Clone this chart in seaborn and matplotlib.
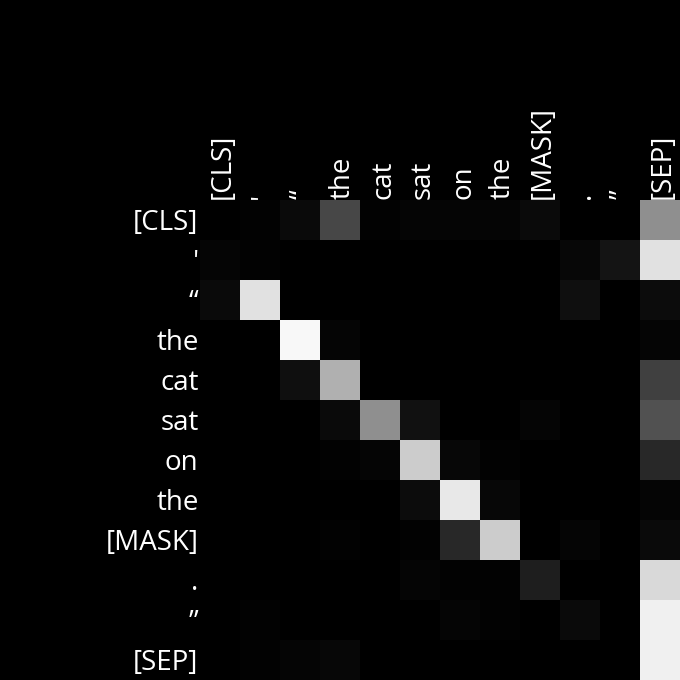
import numpy as np
import matplotlib
matplotlib.use("Agg")
import matplotlib.pyplot as plt
import matplotlib.transforms as mtransforms
import seaborn as sns

# Tokens
tokens = ["[CLS]", "'", "\u201c", "the", "cat", "sat", "on", "the", "[MASK]", ".", "\u201d", "[SEP]"]

# Attention weights (rows = query token, cols = key token)
row_cls = [0.00, 0.01, 0.04, 0.28, 0.01, 0.02, 0.02, 0.02, 0.04, 0.00, 0.00, 0.56]
row_apos = [0.02, 0.01, 0.00, 0.00, 0.00, 0.00, 0.00, 0.00, 0.00, 0.03, 0.08, 0.88]
row_lquote = [0.04, 0.88, 0.00, 0.00, 0.00, 0.00, 0.00, 0.00, 0.00, 0.06, 0.00, 0.05]
row_the1 = [0.00, 0.00, 0.97, 0.02, 0.00, 0.00, 0.00, 0.00, 0.00, 0.00, 0.00, 0.02]
row_cat = [0.00, 0.00, 0.06, 0.69, 0.00, 0.00, 0.00, 0.00, 0.00, 0.00, 0.00, 0.25]
row_sat = [0.00, 0.00, 0.00, 0.04, 0.56, 0.07, 0.00, 0.00, 0.02, 0.00, 0.00, 0.32]
row_on = [0.00, 0.00, 0.00, 0.01, 0.02, 0.80, 0.03, 0.01, 0.00, 0.00, 0.00, 0.16]
row_the2 = [0.00, 0.00, 0.00, 0.00, 0.00, 0.05, 0.91, 0.03, 0.00, 0.00, 0.00, 0.02]
row_mask = [0.00, 0.00, 0.00, 0.01, 0.00, 0.01, 0.16, 0.80, 0.00, 0.02, 0.00, 0.04]
row_dot = [0.00, 0.00, 0.00, 0.00, 0.00, 0.02, 0.01, 0.01, 0.12, 0.00, 0.00, 0.85]
row_rquote = [0.00, 0.01, 0.00, 0.00, 0.00, 0.00, 0.02, 0.01, 0.00, 0.04, 0.00, 0.94]
row_sep = [0.00, 0.01, 0.02, 0.03, 0.00, 0.00, 0.00, 0.00, 0.00, 0.00, 0.00, 0.94]

attn = np.array([row_cls, row_apos, row_lquote, row_the1, row_cat, row_sat,
                 row_on, row_the2, row_mask, row_dot, row_rquote, row_sep])

plt.rcParams['font.family'] = ['Open Sans', 'DejaVu Sans']

fig = plt.figure(figsize=(6.8, 6.8), dpi=100, facecolor="black")
ax = fig.add_axes([200 / 680, 0, 480 / 680, 480 / 680])
ax.set_facecolor("black")

sns.heatmap(attn, ax=ax, cmap="gray", vmin=0, vmax=1, cbar=False,
            xticklabels=tokens, yticklabels=tokens, square=True)

ax.xaxis.tick_top()
ax.tick_params(axis="both", length=0, colors="white", labelsize=20)
ax.tick_params(axis="x", pad=1)
ax.tick_params(axis="y", pad=1)
plt.setp(ax.get_xticklabels(), rotation=90, color="white")
plt.setp(ax.get_yticklabels(), rotation=0, color="white")

# small nudge so the labels sit centred on the cells
dx = mtransforms.ScaledTranslation(3 / 100, 0, fig.dpi_scale_trans)
dy = mtransforms.ScaledTranslation(0, -3 / 100, fig.dpi_scale_trans)
for lab in ax.get_xticklabels():
    lab.set_transform(lab.get_transform() + dx)
for lab in ax.get_yticklabels():
    lab.set_transform(lab.get_transform() + dy)

fig.savefig("out.png", dpi=100, facecolor="black")
